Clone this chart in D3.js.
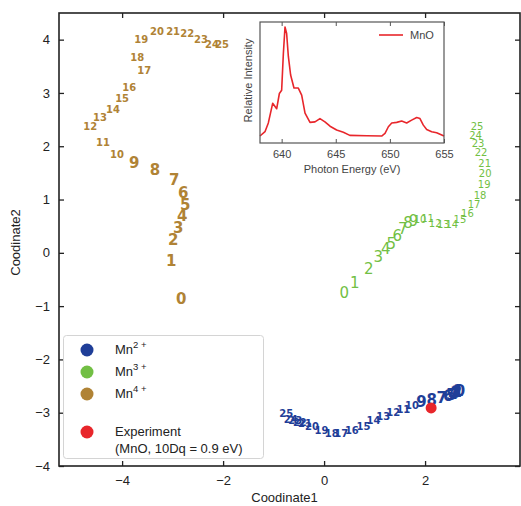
<!DOCTYPE html>
<html>
<head>
<meta charset="utf-8">
<script src="https://cdn.jsdelivr.net/npm/d3@7"></script>
<style>
  body { margin: 0; background: #fff; }
  text { font-family: "Liberation Sans", Arial, sans-serif; }
  .num { font-family: "DejaVu Sans", sans-serif; }
</style>
</head>
<body>
<main></main>
<script>
(function() {
  // Mn2+ trajectory (labels 0..25)
  const mn2X = [2.69, 2.66, 2.63, 2.60, 2.56, 2.52, 2.46, 2.33, 2.13, 1.93, 1.74, 1.57, 1.37, 1.17, 0.98, 0.78, 0.55, 0.34, 0.15, -0.05, -0.24, -0.38, -0.48, -0.57, -0.66, -0.75];
  const mn2Y = [-2.58, -2.59, -2.60, -2.62, -2.64, -2.66, -2.67, -2.72, -2.76, -2.79, -2.87, -2.94, -3.00, -3.07, -3.15, -3.25, -3.34, -3.39, -3.39, -3.34, -3.25, -3.20, -3.19, -3.15, -3.12, -3.01];
  // Mn3+
  const mn3X = [0.40, 0.61, 0.885, 1.075, 1.22, 1.33, 1.45, 1.56, 1.66, 1.77, 1.90, 2.05, 2.20, 2.36, 2.53, 2.69, 2.84, 2.97, 3.09, 3.17, 3.19, 3.18, 3.11, 3.05, 3.00, 3.03];
  const mn3Y = [-0.745, -0.55, -0.29, -0.07, 0.07, 0.18, 0.32, 0.46, 0.56, 0.60, 0.63, 0.64, 0.56, 0.53, 0.54, 0.63, 0.745, 0.91, 1.08, 1.28, 1.49, 1.68, 1.88, 2.05, 2.20, 2.37];
  // Mn4+
  const mn4X = [-2.83, -3.03, -2.99, -2.89, -2.81, -2.75, -2.79, -2.97, -3.35, -3.76, -4.10, -4.38, -4.63, -4.44, -4.18, -4.00, -3.86, -3.56, -3.70, -3.62, -3.31, -2.99, -2.71, -2.44, -2.22, -2.02];
  const mn4Y = [-0.85, -0.15, 0.24, 0.47, 0.69, 0.90, 1.13, 1.37, 1.56, 1.69, 1.84, 2.07, 2.37, 2.55, 2.70, 2.89, 3.10, 3.42, 3.66, 4.00, 4.15, 4.15, 4.11, 4.00, 3.92, 3.92];
  const expPoint = [2.12, -2.91];

  // inset spectrum (MnO)
  const energy = [638.0, 638.46, 638.77, 639.17, 639.39, 639.54, 639.79, 640.0, 640.16, 640.31, 640.46, 640.62, 640.83, 641.14, 641.54, 641.85, 642.16, 642.62, 643.08, 643.54, 644.0, 644.47, 645.08, 645.7, 646.3, 647.86, 649.24, 649.55, 649.86, 650.17, 650.63, 651.09, 651.55, 652.01, 652.48, 652.78, 653.09, 653.4, 653.86, 654.32, 655.0];
  const intensity = [0.0, 0.04, 0.12, 0.30, 0.27, 0.25, 0.39, 0.42, 0.76, 1.0, 0.94, 0.73, 0.56, 0.44, 0.44, 0.375, 0.21, 0.125, 0.13, 0.16, 0.13, 0.09, 0.055, 0.034, 0.006, 0.003, 0.0, 0.024, 0.085, 0.12, 0.125, 0.137, 0.12, 0.146, 0.17, 0.16, 0.10, 0.06, 0.04, 0.03, 0.0];

  const xTicks = [-4, -2, 0, 2];
  const yTicks = [-4, -3, -2, -1, 0, 1, 2, 3, 4];
  const insetTicks = [640, 645, 650, 655];

  const colors = { mn2: "#1f3e98", mn3: "#72bf44", mn4: "#b08335", exp: "#e8262b" };

  const w = 521, h = 506;
  const left = 59, right = 520, top = 13, bottom = 466;

  const svg = d3.select("main").append("svg")
    .attr("width", w).attr("height", h);

  const x = d3.scaleLinear().domain([-5.25, 3.88]).range([left, right]);
  const y = d3.scaleLinear().domain([-4, 4.5]).range([bottom, top]);

  const fmt = (d) => d < 0 ? "\u2212" + Math.abs(d) : d;

  // axes, ticks pointing inward
  const axB = svg.append("g").attr("transform", `translate(0,${bottom})`)
    .call(d3.axisBottom(x).tickValues(xTicks).tickSize(-5).tickPadding(10).tickFormat(fmt));
  const axT = svg.append("g").attr("transform", `translate(0,${top})`)
    .call(d3.axisTop(x).tickValues(xTicks).tickSize(-5).tickFormat(""));
  const axL = svg.append("g").attr("transform", `translate(${left},0)`)
    .call(d3.axisLeft(y).tickValues(yTicks).tickSize(-5).tickPadding(9).tickFormat(fmt));
  const axR = svg.append("g").attr("transform", `translate(${right},0)`)
    .call(d3.axisRight(y).tickValues(yTicks).tickSize(-5).tickFormat(""));
  [axB, axT, axL, axR].forEach(g => {
    g.select(".domain").remove();
    g.selectAll(".tick line").attr("stroke", "#222").attr("stroke-width", 1.3);
    g.selectAll("text").style("font-size", "13px").attr("fill", "#222")
      .style("font-family", "'Liberation Sans', Arial, sans-serif");
  });

  svg.append("rect")
    .attr("x", left).attr("y", top)
    .attr("width", right - left).attr("height", bottom - top)
    .attr("fill", "none").attr("stroke", "#222").attr("stroke-width", 1.6);

  svg.append("text").attr("x", (left + right) / 2 - 5).attr("y", 502)
    .attr("text-anchor", "middle").style("font-size", "13px").attr("fill", "#222")
    .text("Coodinate1");
  svg.append("text").attr("transform", `translate(20,${(top + bottom) / 2 + 3}) rotate(-90)`)
    .attr("text-anchor", "middle").style("font-size", "13px").attr("fill", "#222")
    .text("Coodinate2");

  // number labels: one-digit labels large, two-digit labels small
  const series = [
    { xs: mn4X, ys: mn4Y, c: colors.mn4, wt: 600 },
    { xs: mn3X, ys: mn3Y, c: colors.mn3, wt: 400 },
    { xs: mn2X, ys: mn2Y, c: colors.mn2, wt: 600 }
  ];
  series.forEach(s => {
    svg.append("g").selectAll("text")
      .data(s.xs.map((v, i) => ({ x: v, y: s.ys[i], i: i })))
      .enter().append("text")
      .attr("class", "num")
      .attr("x", d => x(d.x)).attr("y", d => y(d.y))
      .attr("dy", "0.36em")
      .attr("text-anchor", "middle")
      .style("font-size", d => (d.i < 10 ? 15 : 10) + "px")
      .style("font-weight", s.wt)
      .attr("fill", s.c)
      .text(d => d.i);
  });

  svg.append("circle")
    .attr("cx", x(expPoint[0])).attr("cy", y(expPoint[1])).attr("r", 5.5)
    .attr("fill", colors.exp);

  // legend
  const lg = svg.append("g");
  lg.append("rect").attr("x", 63.5).attr("y", 335.5).attr("width", 200).attr("height", 123)
    .attr("rx", 3).attr("fill", "#fff").attr("stroke", "#d4d4d4").attr("stroke-width", 1);
  const items = [
    { base: "Mn", sup: "2 +", c: colors.mn2, yy: 349 },
    { base: "Mn", sup: "3 +", c: colors.mn3, yy: 371 },
    { base: "Mn", sup: "4 +", c: colors.mn4, yy: 393 }
  ];
  items.forEach(it => {
    lg.append("circle").attr("cx", 87).attr("cy", it.yy + 1).attr("r", 6.5).attr("fill", it.c);
    const t = lg.append("text").attr("x", 115).attr("y", it.yy + 5)
      .style("font-size", "13px").attr("fill", "#222");
    t.append("tspan").text(it.base);
    t.append("tspan").attr("dy", -6).style("font-size", "9.5px").text(it.sup);
  });
  lg.append("circle").attr("cx", 87).attr("cy", 432).attr("r", 6.5).attr("fill", colors.exp);
  lg.append("text").attr("x", 115).attr("y", 436).style("font-size", "13px").attr("fill", "#222")
    .text("Experiment");
  lg.append("text").attr("x", 115).attr("y", 453).style("font-size", "13px").attr("fill", "#222")
    .text("(MnO, 10Dq = 0.9 eV)");

  // inset
  const iL = 260, iR = 444, iT = 22, iB = 143;
  const ix = d3.scaleLinear().domain([638, 655]).range([iL, iR]);
  const iy = d3.scaleLinear().domain([-0.064, 1.046]).range([iB, iT]);
  const ins = svg.append("g");
  ins.append("rect").attr("x", iL).attr("y", iT).attr("width", iR - iL).attr("height", iB - iT)
    .attr("fill", "#fff");
  const ib = ins.append("g").attr("transform", `translate(0,${iB})`)
    .call(d3.axisBottom(ix).tickValues(insetTicks).tickSize(-4).tickPadding(7));
  const it2 = ins.append("g").attr("transform", `translate(0,${iT})`)
    .call(d3.axisTop(ix).tickValues(insetTicks).tickSize(-4).tickFormat(""));
  [ib, it2].forEach(g => {
    g.select(".domain").remove();
    g.selectAll(".tick line").attr("stroke", "#555");
    g.selectAll("text").style("font-size", "11px").attr("fill", "#444")
      .style("font-family", "'Liberation Sans', Arial, sans-serif");
  });
  ins.append("path")
    .datum(energy.map((e, i) => [e, intensity[i]]))
    .attr("d", d3.line().x(d => ix(d[0])).y(d => iy(d[1])))
    .attr("fill", "none").attr("stroke", "#e8262b").attr("stroke-width", 1.6)
    .attr("stroke-linejoin", "round");
  ins.append("rect").attr("x", iL).attr("y", iT).attr("width", iR - iL).attr("height", iB - iT)
    .attr("fill", "none").attr("stroke", "#555").attr("stroke-width", 1.2);
  ins.append("line").attr("x1", 379).attr("x2", 403).attr("y1", 35).attr("y2", 35)
    .attr("stroke", "#e8262b").attr("stroke-width", 1.6);
  ins.append("text").attr("x", 410).attr("y", 39).style("font-size", "11px").attr("fill", "#444")
    .text("MnO");
  ins.append("text").attr("x", (iL + iR) / 2).attr("y", 173).attr("text-anchor", "middle")
    .style("font-size", "11px").attr("fill", "#444").text("Photon Energy (eV)");
  ins.append("text").attr("transform", `translate(252,${(iT + iB) / 2 - 2}) rotate(-90)`)
    .attr("text-anchor", "middle").style("font-size", "11px").attr("fill", "#444")
    .text("Relative Intensity");
})();
</script>
</body>
</html>
